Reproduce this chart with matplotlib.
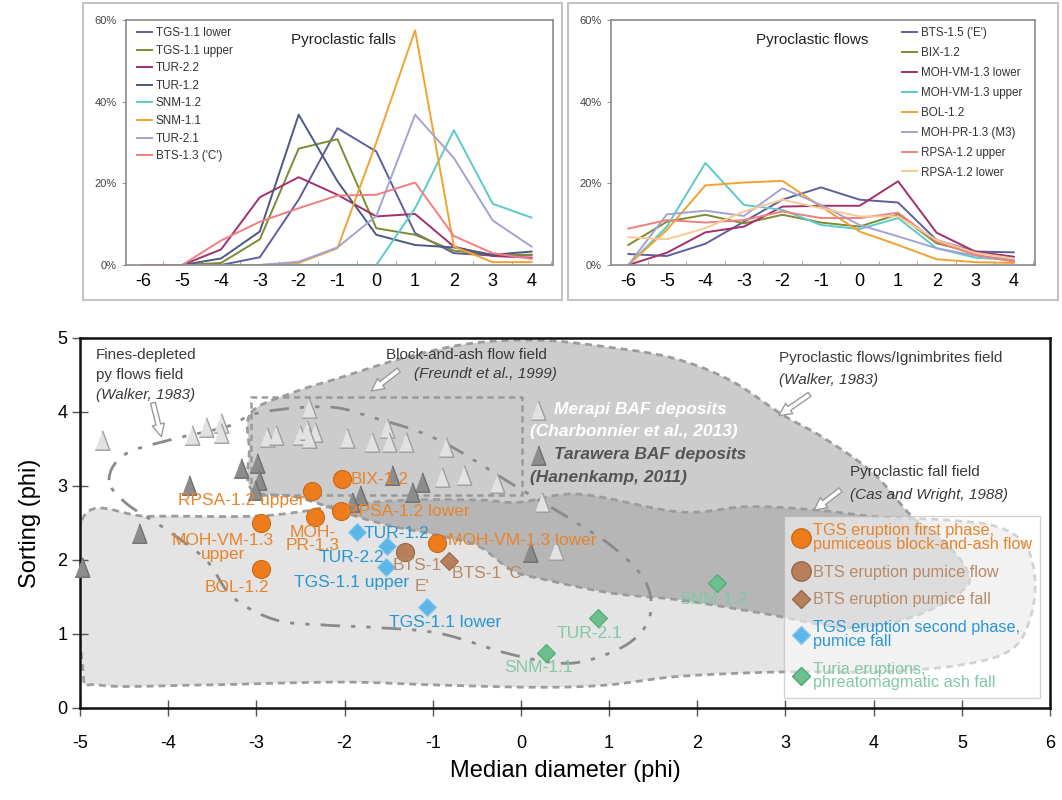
import numpy as np
import matplotlib.pyplot as plt
from matplotlib.patches import Polygon, Rectangle
from matplotlib.lines import Line2D
from matplotlib.ticker import FuncFormatter

plt.rcParams['font.family'] = ['Liberation Sans', 'DejaVu Sans']
plt.rcParams['axes.unicode_minus'] = False

# ---------------- grain size histograms (wt% per phi class) ----------------
phi = [-6, -5, -4, -3, -2, -1, 0, 1, 2, 3, 4]

# pyroclastic falls
fall_names = ['TGS-1.1 lower', 'TGS-1.1 upper', 'TUR-2.2', 'TUR-1.2',
              'SNM-1.2', 'SNM-1.1', 'TUR-2.1', "BTS-1.3 ('C')"]
fall_colors = ['#5d5f9e', '#7d8b34', '#a3306c', '#4c5a82',
               '#5ccaca', '#f2a232', '#a3a3d3', '#f07f7f']
fall_tgs11_lower = [0, 0, 0, 1.9, 16, 33.5, 27.8, 7.8, 2.9, 2.3, 2.5]
fall_tgs11_upper = [0, 0, 0.5, 6.3, 28.5, 30.8, 9.0, 7.4, 3.5, 2.5, 2.5]
fall_tur22 = [0, 0, 3.8, 16.6, 21.5, 17.2, 11.9, 12.5, 4.5, 2.2, 1.8]
fall_tur12 = [0, 0, 1.6, 8.2, 36.8, 20.5, 7.4, 4.9, 4.3, 2.5, 3.3]
fall_snm12 = [0, 0, 0, 0, 0, 0, 0, 13.9, 33.0, 15.0, 11.6]
fall_snm11 = [0, 0, 0, 0, 0.5, 4.1, 30.0, 57.5, 4.5, 0.7, 0.7]
fall_tur21 = [0, 0, 0, 0, 0.8, 4.3, 12.0, 36.8, 26.2, 10.9, 4.5]
fall_bts13 = [0, 0, 6.0, 10.6, 13.9, 17.0, 17.2, 20.2, 7.1, 2.9, 1.5]
fall_values = [fall_tgs11_lower, fall_tgs11_upper, fall_tur22, fall_tur12,
               fall_snm12, fall_snm11, fall_tur21, fall_bts13]

# pyroclastic flows
flow_names = ["BTS-1.5 ('E')", 'BIX-1.2', 'MOH-VM-1.3 lower', 'MOH-VM-1.3 upper',
              'BOL-1.2', 'MOH-PR-1.3 (M3)', 'RPSA-1.2 upper', 'RPSA-1.2 lower']
flow_colors = ['#5d5f9e', '#7d8b34', '#a3306c', '#5ccaca',
               '#f2a232', '#a3a3d3', '#f07f7f', '#f8c992']
flow_bts15 = [2.7, 2.2, 5.2, 10.6, 16.0, 19.0, 16.0, 15.3, 6.1, 3.3, 3.1]
flow_bix12 = [4.9, 10.6, 12.3, 10.2, 12.3, 10.4, 9.4, 12.4, 5.3, 3.0, 2.0]
flow_mohvm13_lower = [0, 3.0, 8.0, 9.4, 14.3, 14.5, 14.5, 20.5, 7.9, 3.3, 2.0]
flow_mohvm13_upper = [0, 9.4, 25.0, 14.7, 13.5, 9.8, 8.8, 11.5, 4.1, 1.8, 1.2]
flow_bol12 = [0, 8.6, 19.5, 20.2, 20.6, 14.3, 8.2, 4.9, 1.4, 0.7, 0.5]
flow_mohpr13 = [0, 12.4, 13.3, 12.0, 18.8, 14.7, 9.8, 7.0, 4.1, 2.3, 1.3]
flow_rpsa12_upper = [8.9, 11.0, 10.4, 11.0, 13.1, 11.5, 11.5, 12.8, 5.7, 2.5, 0.8]
flow_rpsa12_lower = [6.8, 6.3, 9.0, 13.1, 16.0, 13.9, 11.9, 11.9, 6.1, 3.0, 1.6]
flow_values = [flow_bts15, flow_bix12, flow_mohvm13_lower, flow_mohvm13_upper,
               flow_bol12, flow_mohpr13, flow_rpsa12_upper, flow_rpsa12_lower]

# ---------------- Inman diagram: median (Md phi) vs sorting ----------------
tgs1_names = ['BIX-1.2', 'RPSA-1.2 upper', 'RPSA-1.2 lower', 'MOH-PR-1.3',
              'MOH-VM-1.3 upper', 'BOL-1.2', 'MOH-VM-1.3 lower']
tgs1_md = [-2.03, -2.37, -2.04, -2.34, -2.95, -2.95, -0.95]
tgs1_sort = [3.09, 2.93, 2.66, 2.58, 2.50, 1.88, 2.23]

bts_flow_md = [-1.31]
bts_flow_sort = [2.11]
bts_fall_md = [-0.82]
bts_fall_sort = [1.99]

tgs2_names = ['TUR-1.2', 'TUR-2.2', 'TGS-1.1 upper', 'TGS-1.1 lower']
tgs2_md = [-1.86, -1.52, -1.53, -1.06]
tgs2_sort = [2.38, 2.19, 1.91, 1.36]

turia_names = ['SNM-1.1', 'TUR-2.1', 'SNM-1.2']
turia_md = [0.29, 0.88, 2.22]
turia_sort = [0.74, 1.21, 1.69]

merapi_md = [-4.75, -3.73, -3.57, -3.40, -3.40, -2.88, -2.78, -2.51, -2.40, -2.43,
             -2.34, -2.40, -1.97, -1.69, -1.52, -1.49, -1.30, -0.85, -0.89, -0.64,
             -0.27, 0.24, 0.40]
merapi_sort = [3.62, 3.69, 3.80, 3.85, 3.72, 3.66, 3.69, 3.69, 4.05, 3.76,
               3.73, 3.65, 3.65, 3.59, 3.78, 3.59, 3.59, 3.53, 3.12, 3.15,
               3.04, 2.78, 2.13]
tarawera_md = [-4.98, -4.33, -3.76, -3.17, -2.99, -2.97, -3.02, -1.46, -1.12, -1.24,
               -1.83, -1.91, 0.10]
tarawera_sort = [1.91, 2.36, 3.01, 3.24, 3.31, 3.08, 2.95, 3.15, 3.05, 2.92,
                 2.88, 2.78, 2.11]

# field outlines
fall_field_md = [-4.98, -4.22, -3.08, -2.51, -2.06, -1.27, -0.47, -0.02, 0.66, 1.80,
                 2.56, 3.31, 4.07, 4.83, 5.40, 5.72, 5.83, 5.77, 5.55, 4.98,
                 4.07, 3.16, 2.48, 1.72, 0.97, 0.21, -0.93, -2.06, -3.65, -4.78, -4.97]
fall_field_sort = [2.54, 2.59, 2.59, 2.65, 2.74, 2.81, 2.81, 2.78, 2.89, 2.65,
                   2.72, 2.68, 2.58, 2.54, 2.45, 2.20, 1.73, 1.19, 0.78, 0.58,
                   0.49, 0.49, 0.47, 0.42, 0.31, 0.28, 0.31, 0.35, 0.31, 0.31, 0.55]
flow_field_md = [-3.06, -2.59, -2.06, -1.30, -0.55, 0.21, 0.97, 1.72, 2.37, 2.97,
                 3.42, 3.99, 4.44, 4.75, 5.06, 5.01, 4.44, 3.69, 2.74, 1.80,
                 1.04, 0.29, -0.10, -0.47, -0.85, -1.64, -2.51, -3.05, -3.08]
flow_field_sort = [3.99, 4.26, 4.46, 4.74, 4.93, 4.97, 4.88, 4.73, 4.43, 3.96,
                   3.66, 3.18, 2.58, 2.31, 1.86, 1.59, 1.23, 1.09, 1.28, 1.46,
                   1.55, 1.73, 1.86, 2.18, 2.31, 2.51, 2.84, 2.95, 3.49]
fines_md = [-4.67, -4.50, -3.99, -3.34, -2.97, -2.21, -1.69, -0.93, -0.05, 0.58,
            1.08, 1.42, 1.46, 1.23, 0.78, 0.40, -0.16, -0.93, -1.69, -2.21,
            -2.78, -3.27, -3.57, -4.02, -4.48]
fines_sort = [3.08, 3.42, 3.62, 3.80, 3.99, 4.07, 3.93, 3.62, 2.99, 2.54,
              2.14, 1.69, 1.23, 0.88, 0.65, 0.61, 0.74, 1.01, 1.09, 1.12,
              1.19, 1.50, 2.00, 2.41, 2.77]
baf_box = [-3.06, 2.88, 0.01, 4.20]   # xmin, ymin, xmax, ymax

ORANGE = '#ee7c1c'
ORANGE_TXT = '#e8852c'
BROWN = '#b8805a'
BROWN_TXT = '#b98a68'
BLUE = '#5cb6e8'
BLUE_TXT = '#2796d6'
GREEN = '#6cbf8e'
GREEN_TXT = '#82c8a6'
ANN = '#3a3a3a'


def smooth_closed(xs, ys, n=14):
    p = np.column_stack([xs, ys])
    m = len(p)
    t = np.linspace(0, 1, n, endpoint=False)[:, None]
    out = []
    for i in range(m):
        p0, p1, p2, p3 = p[i - 1], p[i], p[(i + 1) % m], p[(i + 2) % m]
        out.append(0.5 * (2 * p1 + (-p0 + p2) * t + (2 * p0 - 5 * p1 + 4 * p2 - p3) * t ** 2
                          + (-p0 + 3 * p1 - 3 * p2 + p3) * t ** 3))
    return np.vstack(out)


def histogram_panel(ax, names, colors, values, title, title_x, leg_kw):
    for name, col, vals in zip(names, colors, values):
        ax.plot(phi, np.array(vals) / 100, color=col, lw=1.4, label=name)
    ax.set_xlim(-6.45, 4.55)
    ax.set_ylim(0, 0.6)
    ax.set_xticks(phi)
    ax.set_xticks(np.arange(-5.5, 4.6, 1), minor=True)
    ax.tick_params(axis='x', which='major', length=0, labelsize=13, pad=6)
    ax.tick_params(axis='x', which='minor', length=3, color='#999999', direction='in')
    ax.set_yticks([0, 0.2, 0.4, 0.6])
    ax.yaxis.set_major_formatter(FuncFormatter(lambda v, p: f'{v * 100:.0f}%'))
    ax.tick_params(axis='y', length=3, labelsize=8, color='#999999', labelcolor='#444444')
    for s in ax.spines.values():
        s.set_color('#8a8a8a')
        s.set_linewidth(1.2)
    ax.text(title_x, 0.92, title, transform=ax.transAxes, ha='center', va='center',
            fontsize=11, color='#222222')
    leg = ax.legend(frameon=False, fontsize=8.4, handlelength=1.3, handletextpad=0.3,
                    borderaxespad=0.2, **leg_kw)
    for t in leg.get_texts():
        t.set_color('#333333')


fig = plt.figure(figsize=(10.62, 8.0), dpi=100)

# frames around the two histogram panels
for x0, w in [(0.078, 0.451), (0.535, 0.461)]:
    fig.patches.append(Rectangle((x0, 0.625), w, 0.371, transform=fig.transFigure,
                                 fill=False, ec='#c4c4c4', lw=1.5))

ax1 = fig.add_axes([0.1186, 0.66875, 0.402, 0.30625])
histogram_panel(ax1, fall_names, fall_colors, fall_values, 'Pyroclastic falls', 0.51,
                dict(loc='upper left', bbox_to_anchor=(0.01, 1.0), labelspacing=0.48))

ax2 = fig.add_axes([0.5753, 0.66875, 0.3992, 0.30625])
histogram_panel(ax2, flow_names, flow_colors, flow_values, 'Pyroclastic flows', 0.475,
                dict(loc='upper left', bbox_to_anchor=(0.67, 1.0), labelspacing=0.68))

# ---------------- main diagram ----------------
ax = fig.add_axes([0.0753, 0.115, 0.9134, 0.4625])
ax.set_xlim(-5, 6)
ax.set_ylim(0, 5)

fall_shape = smooth_closed(fall_field_md, fall_field_sort)
flow_shape = smooth_closed(flow_field_md, flow_field_sort)
ax.add_patch(Polygon(fall_shape, closed=True, fc='#e4e4e4', ec='none', zorder=1))
ax.add_patch(Polygon(flow_shape, closed=True, fc=(0, 0, 0, 0.2), ec='none', zorder=1.2))
for shape in (fall_shape, flow_shape):
    ax.add_patch(Polygon(shape, closed=True, fill=False, ec='#9c9c9c', lw=2,
                         ls=(0, (2.5, 1.8)), zorder=1.5))

fines_shape = smooth_closed(fines_md, fines_sort)
ax.add_patch(Polygon(fines_shape, closed=True, fill=False, ec='#8a8a8a', lw=2,
                     ls=(0, (7, 4, 1.5, 4, 1.5, 4)), zorder=2))
ax.add_patch(Rectangle((baf_box[0], baf_box[1]), baf_box[2] - baf_box[0], baf_box[3] - baf_box[1],
                       fill=False, ec='#999999', lw=1.8, ls=(0, (2.5, 1.8)), zorder=2))

tri = [(-0.75, -1), (0.75, -1), (0, 1)]
ax.plot(merapi_md, merapi_sort, ls='', marker=tri, ms=14, mfc='#e2e2e2', mec='#9e9e9e',
        mew=1, zorder=3)
ax.plot(tarawera_md, tarawera_sort, ls='', marker=tri, ms=14, mfc='#8c8c8c', mec='#6e6e6e',
        mew=1, zorder=3, clip_on=False)

ax.plot(tgs1_md, tgs1_sort, ls='', marker='o', ms=13, mfc=ORANGE, mec='#c86a18', mew=0.8, zorder=4)
ax.plot(bts_flow_md, bts_flow_sort, ls='', marker='o', ms=13, mfc=BROWN, mec='#96684a', mew=0.8, zorder=4)
ax.plot(bts_fall_md, bts_fall_sort, ls='', marker='D', ms=9, mfc=BROWN, mec='#96684a', mew=0.8, zorder=4)
ax.plot(tgs2_md, tgs2_sort, ls='', marker='D', ms=9, mfc=BLUE, mec='#8cc8ee', mew=0.8, zorder=4)
ax.plot(turia_md, turia_sort, ls='', marker='D', ms=9, mfc=GREEN, mec='#4fa874', mew=0.8, zorder=4)

# sample labels
lab_fs = 12.5
tgs1_lab = [('BIX-1.2', -1.93, 3.09, 'left'), ('RPSA-1.2 upper', -2.45, 2.80, 'right'),
            ('RPSA-1.2 lower', -1.98, 2.66, 'left'), ('MOH-\nPR-1.3', -2.36, 2.28, 'center'),
            ('MOH-VM-1.3\nupper', -3.38, 2.17, 'center'), ('BOL-1.2', -3.22, 1.63, 'center'),
            ('MOH-VM-1.3 lower', -0.83, 2.26, 'left')]
for name, (txt, lx, ly, ha) in zip(tgs1_names, tgs1_lab):
    ax.text(lx, ly, txt, color=ORANGE_TXT, fontsize=lab_fs, ha=ha, va='center',
            linespacing=0.85, zorder=5)
tgs2_lab = [('TUR-1.2', -1.78, 2.36, 'left'), ('TUR-2.2', -1.55, 2.03, 'right'),
            ('TGS-1.1 upper', -2.57, 1.69, 'left'), ('TGS-1.1 lower', -1.49, 1.16, 'left')]
for name, (txt, lx, ly, ha) in zip(tgs2_names, tgs2_lab):
    ax.text(lx, ly, txt, color=BLUE_TXT, fontsize=lab_fs, ha=ha, va='center', zorder=5)
turia_lab = [('SNM-1.1', -0.19, 0.55), ('TUR-2.1', 0.40, 1.01), ('SNM-1.2', 1.80, 1.46)]
for name, (txt, lx, ly) in zip(turia_names, turia_lab):
    ax.text(lx, ly, txt, color=GREEN_TXT, fontsize=lab_fs, ha='left', va='center', zorder=5)
ax.text(-1.46, 1.92, 'BTS-1', color=BROWN_TXT, fontsize=lab_fs, ha='left', va='center', zorder=5)
ax.text(-1.20, 1.64, "E'", color=BROWN_TXT, fontsize=lab_fs, ha='left', va='center', zorder=5)
ax.text(-0.78, 1.82, "BTS-1 'C", color=BROWN_TXT, fontsize=lab_fs, ha='left', va='center', zorder=5)

# field annotations
ann_fs = 11
ax.text(-4.82, 4.77, 'Fines-depleted', color=ANN, fontsize=ann_fs, ha='left', va='center')
ax.text(-4.82, 4.50, 'py flows field', color=ANN, fontsize=ann_fs, ha='left', va='center')
ax.text(-4.82, 4.23, '(Walker, 1983)', color=ANN, fontsize=ann_fs, style='italic',
        ha='left', va='center')
ax.text(-0.62, 4.77, 'Block-and-ash flow field', color=ANN, fontsize=ann_fs, ha='center', va='center')
ax.text(-0.40, 4.52, '(Freundt et al., 1999)', color=ANN, fontsize=ann_fs, style='italic',
        ha='center', va='center')
ax.text(2.93, 4.73, 'Pyroclastic flows/Ignimbrites field', color=ANN, fontsize=ann_fs,
        ha='left', va='center')
ax.text(2.93, 4.43, '(Walker, 1983)', color=ANN, fontsize=ann_fs, style='italic',
        ha='left', va='center')
ax.text(3.73, 3.19, 'Pyroclastic fall field', color=ANN, fontsize=ann_fs, ha='left', va='center')
ax.text(3.73, 2.88, '(Cas and Wright, 1988)', color=ANN, fontsize=ann_fs, style='italic',
        ha='left', va='center')

# inline key for the BAF datasets
ax.plot([0.19], [4.03], ls='', marker=tri, ms=14, mfc='#e2e2e2', mec='#9e9e9e', zorder=3)
ax.plot([0.19], [3.42], ls='', marker=tri, ms=14, mfc='#8c8c8c', mec='#6e6e6e', zorder=3)
ax.text(0.38, 4.03, 'Merapi BAF deposits', color='white', fontsize=12.5, weight='bold',
        style='italic', ha='left', va='center')
ax.text(0.10, 3.73, '(Charbonnier et al., 2013)', color='white', fontsize=12.5, weight='bold',
        style='italic', ha='left', va='center')
ax.text(0.38, 3.42, 'Tarawera BAF deposits', color='#555555', fontsize=12.5, weight='bold',
        style='italic', ha='left', va='center')
ax.text(0.10, 3.11, '(Hanenkamp, 2011)', color='#555555', fontsize=12.5, weight='bold',
        style='italic', ha='left', va='center')

arrow_kw = dict(arrowstyle='simple,head_length=0.9,head_width=0.9,tail_width=0.35',
                fc='white', ec='#9a9a9a', lw=1)
for tail, tip in [((-4.18, 4.16), (-4.07, 3.63)), ((-1.36, 4.59), (-1.72, 4.26)),
                  ((3.30, 4.26), (2.90, 3.93)), ((3.65, 2.97), (3.30, 2.65))]:
    ax.annotate('', xy=tip, xytext=tail, arrowprops=arrow_kw, zorder=3)

ax.set_xticks(range(-5, 7))
ax.set_yticks(range(0, 6))
ax.tick_params(axis='x', direction='inout', length=11, width=1, pad=14, labelsize=13, colors='#555555',
               labelcolor='black')
ax.tick_params(axis='y', direction='inout', length=12, width=1, pad=3, labelsize=13, colors='#555555',
               labelcolor='black')
for s in ax.spines.values():
    s.set_linewidth(1.8)
    s.set_color('#111111')
ax.set_xlabel('Median diameter (phi)', fontsize=17, labelpad=6)
ax.set_ylabel('Sorting (phi)', fontsize=17, labelpad=12)

handles = [
    Line2D([], [], ls='', marker='o', ms=14, mfc=ORANGE, mec='#c86a18'),
    Line2D([], [], ls='', marker='o', ms=14, mfc=BROWN, mec='#96684a'),
    Line2D([], [], ls='', marker='D', ms=9, mfc=BROWN, mec='#96684a'),
    Line2D([], [], ls='', marker='D', ms=9, mfc=BLUE, mec='#8cc8ee'),
    Line2D([], [], ls='', marker='D', ms=9, mfc=GREEN, mec='#4fa874'),
]
labels = ['TGS eruption first phase,\npumiceous block-and-ash flow', 'BTS eruption pumice flow',
          'BTS eruption pumice fall', 'TGS eruption second phase,\npumice fall',
          'Turia eruptions,\nphreatomagmatic ash fall']
leg = ax.legend(handles, labels, loc='lower right', bbox_to_anchor=(0.998, 0.006), fontsize=11.7,
                frameon=True, fancybox=False, framealpha=0.55, edgecolor='#b0b0b0',
                handletextpad=0.15, handlelength=1.2, labelspacing=0.78, borderpad=0.45)
leg.get_frame().set_linewidth(1)
leg.set_zorder(6)
for t, c in zip(leg.get_texts(), [ORANGE_TXT, BROWN_TXT, BROWN_TXT, BLUE_TXT, GREEN_TXT]):
    t.set_color(c)
    t.set_linespacing(0.9)

fig.savefig('out.png', dpi=100)
